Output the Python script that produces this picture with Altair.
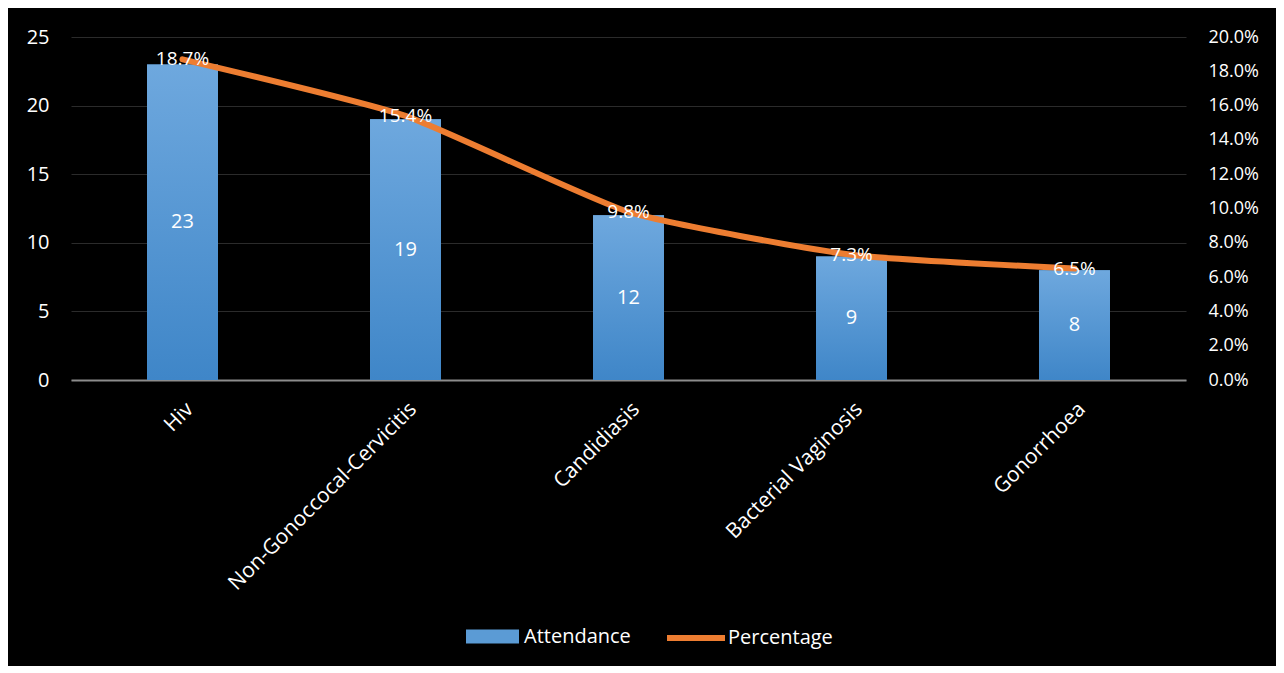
import altair as alt
import pandas as pd

categories = ["Hiv", "Non-Gonoccocal-Cervicitis", "Candidiasis", "Bacterial Vaginosis", "Gonorrhoea"]
attendance = [23, 19, 12, 9, 8]
percentage = [0.187, 0.154, 0.098, 0.073, 0.065]
pct_labels = ["18.7%", "15.4%", "9.8%", "7.3%", "6.5%"]
left_ticks = [0, 5, 10, 15, 20, 25]
right_ticks = [0.0, 0.02, 0.04, 0.06, 0.08, 0.10, 0.12, 0.14, 0.16, 0.18, 0.20]

df = pd.DataFrame({
    "Disease": categories,
    "Attendance": attendance,
    "Percentage": percentage,
    "PctLabel": pct_labels,
    "bar_series": ["Attendance"] * len(categories),
    "line_series": ["Percentage"] * len(categories),
})

FONT = "Open Sans"
W, H = 1115, 343
PAD = {"left": 63, "right": 90, "top": 29, "bottom": 286}

x_enc = alt.X(
    "Disease:N", sort=categories,
    scale=alt.Scale(paddingInner=0.682, paddingOuter=0.341),
    axis=alt.Axis(title=None, labelAngle=-45, labelFontSize=21, labelColor="white",
                  labelFont=FONT, domainColor="#8c8c8c", domainWidth=2, ticks=False,
                  grid=False, labelPadding=18, labelLimit=0),
)

y_left_scale = alt.Scale(domain=[0, 25])
y_left_axis = alt.Axis(title=None, values=left_ticks, grid=True, gridColor="#2b2b2b",
                       gridWidth=1, domain=False, ticks=False, labelFontSize=20,
                       labelColor="white", labelFont=FONT, labelPadding=22)

y_right_scale = alt.Scale(domain=[0, 0.2])
y_right_axis = alt.Axis(title=None, orient="right", format=".1%", values=right_ticks,
                        grid=False, domain=False, ticks=False, labelFontSize=18,
                        labelColor="white", labelFont=FONT, labelPadding=22)

base = alt.Chart(df)

bar_legend = base.mark_bar().encode(
    x=x_enc,
    y=alt.Y("Attendance:Q", scale=y_left_scale, axis=y_left_axis),
    fill=alt.Fill("bar_series:N",
                  scale=alt.Scale(domain=["Attendance"], range=["#5B9BD5"]),
                  legend=alt.Legend(title=None, orient="none", legendX=395, legendY=573,
                                    symbolType="M-1,-0.264H1V0.264H-1Z", symbolSize=2809,
                                    symbolStrokeWidth=0, labelFontSize=20, labelColor="white",
                                    labelFont=FONT, labelOffset=5)),
)

bar_grad = base.mark_bar(
    color=alt.Gradient(gradient="linear",
                       stops=[alt.GradientStop(color="#6EA8DE", offset=0),
                              alt.GradientStop(color="#3F86C8", offset=1)],
                       x1=0, x2=0, y1=0, y2=1)
).encode(
    x=x_enc,
    y=alt.Y("Attendance:Q", scale=y_left_scale, axis=y_left_axis),
)

bar_text = base.transform_calculate(mid="datum.Attendance / 2").mark_text(
    color="white", fontSize=20, font=FONT, baseline="middle", align="center"
).encode(
    x=x_enc,
    y=alt.Y("mid:Q", scale=y_left_scale, axis=y_left_axis),
    text=alt.Text("Attendance:Q"),
)

line = base.mark_line(strokeWidth=6, interpolate="cardinal", tension=0.5,
                      strokeCap="round").encode(
    x=x_enc,
    y=alt.Y("Percentage:Q", scale=y_right_scale, axis=y_right_axis),
    stroke=alt.Stroke("line_series:N",
                      scale=alt.Scale(domain=["Percentage"], range=["#ED7D31"]),
                      legend=alt.Legend(title=None, orient="none", legendX=593, legendY=569,
                                        symbolType="stroke", symbolSize=3364,
                                        symbolStrokeWidth=6, labelFontSize=20,
                                        labelColor="white", labelFont=FONT, labelOffset=0)),
)

pct_text = base.mark_text(
    color="white", fontSize=19, font=FONT, baseline="middle", align="center"
).encode(
    x=x_enc,
    y=alt.Y("Percentage:Q", scale=y_right_scale, axis=y_right_axis),
    text=alt.Text("PctLabel:N"),
)

left_layer = alt.layer(bar_legend, bar_grad, bar_text)
right_layer = alt.layer(line, pct_text)

chart = alt.layer(left_layer, right_layer).resolve_scale(
    y="independent", fill="independent", stroke="independent"
).properties(
    width=W, height=H, padding=PAD,
    autosize=alt.AutoSizeParams(type="none"),
    background="black",
).configure_view(stroke=None)

chart.save("out.html", embed_options={"renderer": "svg", "actions": False})
